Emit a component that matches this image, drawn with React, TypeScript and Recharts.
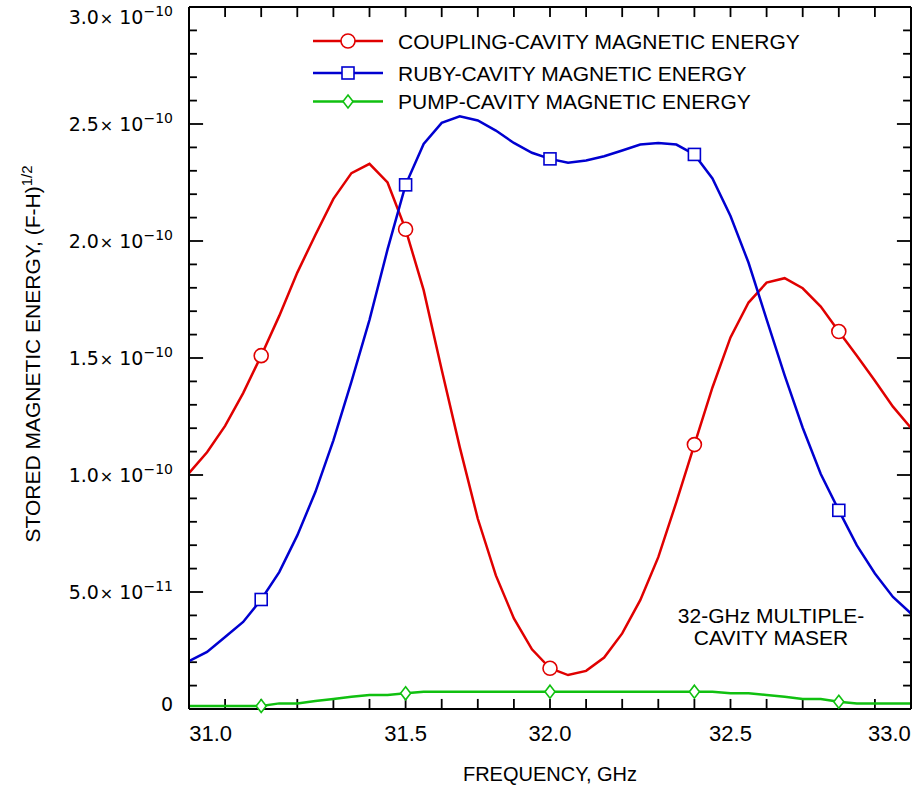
import { ComposedChart, Line, XAxis, YAxis, Legend } from 'recharts';

// frequency samples, GHz
const FREQ = [
  31.0, 31.05, 31.1, 31.15, 31.2, 31.25, 31.3, 31.35, 31.4, 31.45,
  31.5, 31.55, 31.6, 31.65, 31.7, 31.75, 31.8, 31.85, 31.9, 31.95,
  32.0, 32.05, 32.1, 32.15, 32.2, 32.25, 32.3, 32.35, 32.4, 32.45,
  32.5, 32.55, 32.6, 32.65, 32.7, 32.75, 32.8, 32.85, 32.9, 32.95, 33.0,
];

// stored magnetic energy, units of 1e-10
const COUPLING = [
  1.008, 1.097, 1.21, 1.35, 1.51, 1.68, 1.865, 2.026, 2.18, 2.29,
  2.33, 2.25, 2.05, 1.79, 1.45, 1.119, 0.813, 0.571, 0.387, 0.255,
  0.174, 0.145, 0.163, 0.22, 0.323, 0.465, 0.649, 0.884, 1.13, 1.374,
  1.588, 1.737, 1.822, 1.841, 1.798, 1.72, 1.613, 1.51, 1.403, 1.292, 1.201,
];
const RUBY = [
  0.205, 0.244, 0.308, 0.372, 0.468, 0.585, 0.742, 0.927, 1.148, 1.399,
  1.663, 1.964, 2.24, 2.415, 2.505, 2.533, 2.515, 2.472, 2.419, 2.377,
  2.351, 2.334, 2.344, 2.362, 2.387, 2.412, 2.419, 2.412, 2.37, 2.267,
  2.107, 1.907, 1.665, 1.426, 1.202, 1.004, 0.849, 0.699, 0.579, 0.479, 0.408,
];
const PUMP = [
  0.013, 0.013, 0.013, 0.013, 0.013, 0.024, 0.024, 0.034, 0.043, 0.052,
  0.06, 0.06, 0.067, 0.074, 0.074, 0.074, 0.074, 0.074, 0.074, 0.074,
  0.074, 0.074, 0.074, 0.074, 0.074, 0.074, 0.074, 0.074, 0.074, 0.074,
  0.067, 0.067, 0.06, 0.052, 0.043, 0.043, 0.031, 0.024, 0.024, 0.024, 0.024,
];

// symbols are only drawn at these frequencies
const MARKER_FREQ = [31.2, 31.6, 32.0, 32.4, 32.8];

const X_MINOR = [
  31.1, 31.2, 31.3, 31.4, 31.5, 31.6, 31.7, 31.8, 31.9, 32.0,
  32.1, 32.2, 32.3, 32.4, 32.5, 32.6, 32.7, 32.8, 32.9,
];
const X_LABEL_AT = [31.06, 31.6, 32.0, 32.5, 32.94];
const X_LABELS = ['31.0', '31.5', '32.0', '32.5', '33.0'];

const Y_MINOR = [
  0.1, 0.2, 0.3, 0.4, 0.6, 0.7, 0.8, 0.9, 1.1, 1.2, 1.3, 1.4,
  1.6, 1.7, 1.8, 1.9, 2.1, 2.2, 2.3, 2.4, 2.6, 2.7, 2.8, 2.9,
];
const Y_MAJOR = [0, 0.5, 1.0, 1.5, 2.0, 2.5, 3.0];
const Y_MANTISSA = ['0', '5.0', '1.0', '1.5', '2.0', '2.5', '3.0'];
const Y_EXPONENT = ['', '\u221211', '\u221210', '\u221210', '\u221210', '\u221210', '\u221210'];

const SERIES = [
  { key: 'coupling', name: 'COUPLING-CAVITY MAGNETIC ENERGY', color: '#e00000', shape: 'circle' },
  { key: 'ruby', name: 'RUBY-CAVITY MAGNETIC ENERGY', color: '#0000d0', shape: 'square' },
  { key: 'pump', name: 'PUMP-CAVITY MAGNETIC ENERGY', color: '#10c010', shape: 'diamond' },
];

const SANS = '"Liberation Sans", Arial, sans-serif';
const WIDE = '"DejaVu Sans", sans-serif';

const FRAME = { stroke: '#000', strokeWidth: 2 };

// inward tick lengths in axis units (about 10, 14 and 8 px)
const X_TICK_LEN = 0.043;
const Y_TICK_MAJOR = 0.039;
const Y_TICK_MINOR = 0.022;

const data = FREQ.map((freq, i) => ({
  freq,
  coupling: COUPLING[i],
  ruby: RUBY[i],
  pump: PUMP[i],
}));

const near = (a: number, b: number) => Math.abs(a - b) < 1e-6;

// each tick mark is a short two-point segment on the edge of the frame
const Y_EDGE_TICKS = [...Y_MAJOR.slice(1, -1), ...Y_MINOR];
const yLen = (v: number) => (Y_MAJOR.some((m) => near(m, v)) ? Y_TICK_MAJOR : Y_TICK_MINOR);
const tickSegments = [
  ...X_MINOR.map((f) => [{ freq: f, v: 0 }, { freq: f, v: X_TICK_LEN }]),
  ...X_MINOR.map((f) => [{ freq: f, v: 3 }, { freq: f, v: 3 - X_TICK_LEN }]),
  ...Y_EDGE_TICKS.map((v) => [{ freq: 31, v }, { freq: 31 + yLen(v), v }]),
  ...Y_EDGE_TICKS.map((v) => [{ freq: 33, v }, { freq: 33 - yLen(v), v }]),
];

function Marker({ shape, cx, cy, color }: { shape: string; cx: number; cy: number; color: string }) {
  const common = { fill: '#fff', stroke: color, strokeWidth: 1.6 };
  if (shape === 'circle') return <circle cx={cx} cy={cy} r={7} {...common} />;
  if (shape === 'square') return <rect x={cx - 6} y={cy - 6} width={12} height={12} {...common} />;
  return <polygon points={`${cx},${cy - 6.5} ${cx + 5},${cy} ${cx},${cy + 6.5} ${cx - 5},${cy}`} {...common} />;
}

const makeDot = (shape: string, color: string) => (props: any) => {
  const { cx, cy, payload, index } = props;
  if (!MARKER_FREQ.some((f) => near(f, payload.freq))) return <g key={`d${index}`} />;
  return <Marker key={`d${index}`} shape={shape} cx={cx} cy={cy} color={color} />;
};

const BottomLabel = ({ x, y, payload }: any) => {
  const li = X_LABEL_AT.findIndex((t) => near(t, payload.value));
  if (li < 0) return <g />;
  return (
    <text x={x} y={y + 32} textAnchor="middle" fontFamily={SANS} fontSize={22} fill="#000">
      {X_LABELS[li]}
    </text>
  );
};

const LeftLabel = ({ x, y, payload }: any) => {
  const mi = Y_MAJOR.findIndex((t) => near(t, payload.value));
  if (mi < 0) return <g />;
  const base = mi === 0 ? 2 : mi === Y_MAJOR.length - 1 ? 17 : 7;
  return (
    <text x={x - 16} y={y + base} textAnchor="end" fontFamily={WIDE} fontSize={19} fill="#000">
      {Y_EXPONENT[mi] ? (
        <>
          {Y_MANTISSA[mi]}
          <tspan dx={1} fontSize={16}>{'\u00d7'}</tspan>
          <tspan dx={6}>10</tspan>
          <tspan fontSize={14} dy={-8}>{Y_EXPONENT[mi]}</tspan>
        </>
      ) : (
        Y_MANTISSA[mi]
      )}
    </text>
  );
};

const renderLegend = () => (
  <svg width={520} height={90}>
    {SERIES.map((s, i) => {
      const cy = [13, 45, 73.5][i];
      return (
        <g key={s.key}>
          <line x1={3} x2={73} y1={cy} y2={cy} stroke={s.color} strokeWidth={2.5} />
          <Marker shape={s.shape} cx={38} cy={cy} color={s.color} />
          <text x={88} y={cy + 7.5} fontFamily={SANS} fontSize={21} fill="#000">
            {s.name}
          </text>
        </g>
      );
    })}
  </svg>
);

const XTitle = ({ viewBox }: any) => (
  <text x={viewBox.x + viewBox.width / 2} y={781} textAnchor="middle" fontFamily={SANS} fontSize={20} fill="#000">
    FREQUENCY, GHz
  </text>
);

const YTitle = () => (
  <text x={40} y={354} transform="rotate(-90 40 354)" textAnchor="middle" fontFamily={SANS} fontSize={21} fill="#000">
    STORED MAGNETIC ENERGY, (F-H)
    <tspan fontSize={15} dy={-8}>1/2</tspan>
  </text>
);

export default function App() {
  return (
    <div style={{ position: 'absolute', left: 0, top: 0, width: 917, height: 788, background: '#fff' }}>
      <ComposedChart width={917} height={788} data={data} margin={{ top: 0, right: 0, bottom: 0, left: 0 }}>
        <XAxis
          xAxisId="bottom"
          dataKey="freq"
          type="number"
          domain={[31, 33]}
          ticks={X_LABEL_AT}
          interval={0}
          height={79}
          tickSize={0}
          tickMargin={0}
          tickLine={false}
          tick={<BottomLabel />}
          axisLine={FRAME}
          label={<XTitle />}
        />
        <XAxis
          xAxisId="top"
          orientation="top"
          dataKey="freq"
          type="number"
          domain={[31, 33]}
          ticks={[]}
          height={7}
          tick={false}
          tickLine={false}
          axisLine={FRAME}
        />
        <YAxis
          yAxisId="left"
          type="number"
          domain={[0, 3]}
          ticks={Y_MAJOR}
          interval={0}
          width={189}
          tickSize={0}
          tickMargin={0}
          tickLine={false}
          tick={<LeftLabel />}
          axisLine={FRAME}
          label={<YTitle />}
        />
        <YAxis
          yAxisId="right"
          orientation="right"
          type="number"
          domain={[0, 3]}
          ticks={[]}
          width={6}
          tick={false}
          tickLine={false}
          axisLine={FRAME}
        />

        {/* inward tick marks on all four edges */}
        {tickSegments.map((seg, i) => (
          <Line
            key={`tick${i}`}
            xAxisId="bottom"
            yAxisId="left"
            data={seg}
            dataKey="v"
            type="linear"
            stroke="#000"
            strokeWidth={1.8}
            dot={false}
            activeDot={false}
            legendType="none"
            isAnimationActive={false}
          />
        ))}

        {SERIES.map((s) => (
          <Line
            key={s.key}
            xAxisId="bottom"
            yAxisId="left"
            type="linear"
            dataKey={s.key}
            name={s.name}
            stroke={s.color}
            strokeWidth={2.5}
            dot={makeDot(s.shape, s.color)}
            activeDot={false}
            isAnimationActive={false}
          />
        ))}
        <Legend
          layout="vertical"
          verticalAlign="middle"
          align="center"
          content={renderLegend}
          wrapperStyle={{ top: 28, left: 310, width: 520, height: 90 }}
        />
        <text x={771} y={623} textAnchor="middle" fontFamily={SANS} fontSize={21} fill="#000">
          32-GHz MULTIPLE-
        </text>
        <text x={771} y={645} textAnchor="middle" fontFamily={SANS} fontSize={21} fill="#000">
          CAVITY MASER
        </text>
      </ComposedChart>
    </div>
  );
}
